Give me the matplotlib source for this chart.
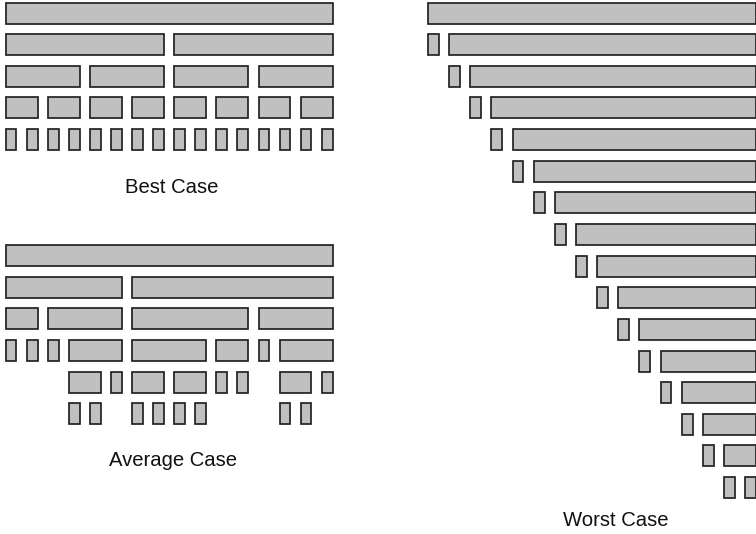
import matplotlib
matplotlib.use("Agg")
import matplotlib.pyplot as plt

# quicksort partition trees on 16 elements: each row is a list of (start, end) segments
best_rows = [
    [(0, 16)],
    [(0, 8), (8, 16)],
    [(0, 4), (4, 8), (8, 12), (12, 16)],
    [(0, 2), (2, 4), (4, 6), (6, 8), (8, 10), (10, 12), (12, 14), (14, 16)],
    [(i, i + 1) for i in range(16)],
]

average_rows = [
    [(0, 16)],
    [(0, 6), (6, 16)],
    [(0, 2), (2, 6), (6, 12), (12, 16)],
    [(0, 1), (1, 2), (2, 3), (3, 6), (6, 10), (10, 12), (12, 13), (13, 16)],
    [(3, 5), (5, 6), (6, 8), (8, 10), (10, 11), (11, 12), (13, 15), (15, 16)],
    [(3, 4), (4, 5), (6, 7), (7, 8), (8, 9), (9, 10), (13, 14), (14, 15)],
]

worst_rows = [[(0, 16)]] + [[(k, k + 1), (k + 1, 16)] for k in range(15)]

labels = ["Best Case", "Average Case", "Worst Case"]

W, H = 756, 534
pitch = 31.64
fig = plt.figure(figsize=(W / 100, H / 100), dpi=100)
fig.patch.set_facecolor("white")


def tree_axes(left, unit, top, nrows):
    ax = fig.add_axes([left / W, 1 - (top + nrows * pitch) / H,
                       16 * unit / W, nrows * pitch / H])
    ax.set_xlim(0, 16)
    ax.set_ylim(nrows - 0.5, -0.5)
    ax.axis("off")
    return ax


def draw(ax, rows, unit):
    gap = 10.3 / unit
    for r, segs in enumerate(rows):
        for a, b in segs:
            ax.barh(r, (b - a) - gap, left=a, height=21 / pitch,
                    color="#c0c0c0", edgecolor="#222222", linewidth=1.25,
                    clip_on=False)


ax1 = tree_axes(5.7, 21.07, 13 - pitch / 2, len(best_rows))
draw(ax1, best_rows, 21.07)
ax2 = tree_axes(5.7, 21.07, 255.5 - pitch / 2, len(average_rows))
draw(ax2, average_rows, 21.07)
ax3 = tree_axes(428, 21.14, 13 - pitch / 2, len(worst_rows))
draw(ax3, worst_rows, 21.14)

font = dict(family=["Liberation Sans", "DejaVu Sans"], fontsize=14.6,
            color="#111111", ha="center", va="baseline")
fig.text(171.7 / W, 1 - 192.7 / H, labels[0], **font)
fig.text(173 / W, 1 - 465.7 / H, labels[1], **font)
fig.text(615.5 / W, 1 - 525.7 / H, labels[2], **font)

fig.savefig("out.png", dpi=100, facecolor="white")
